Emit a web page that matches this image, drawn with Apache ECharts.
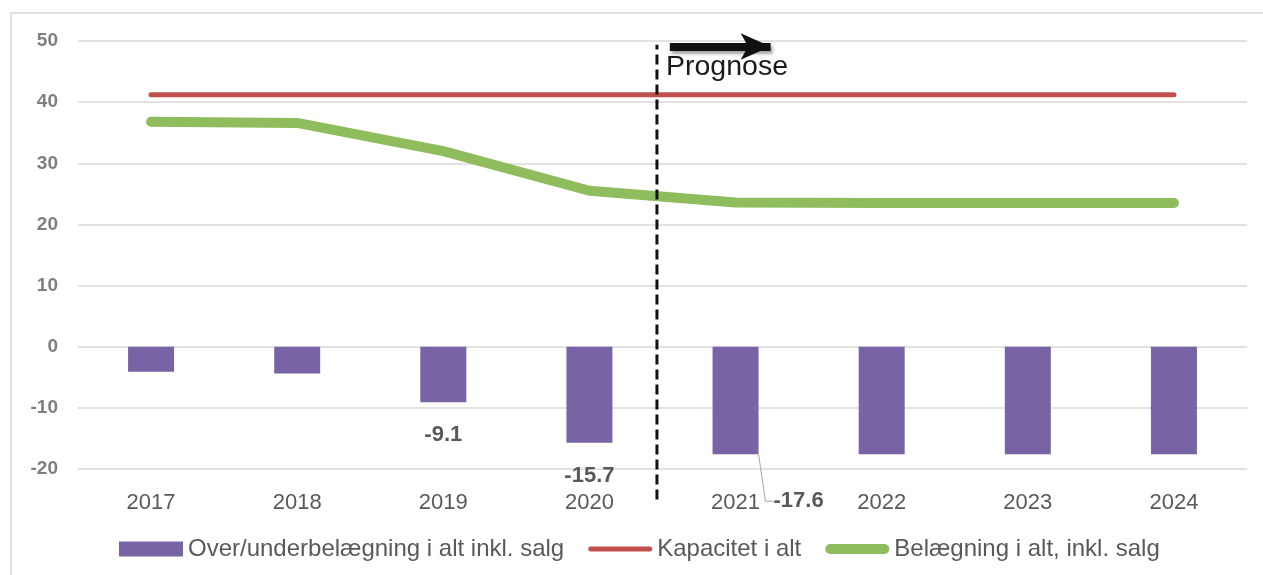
<!DOCTYPE html>
<html><head><meta charset="utf-8">
<script src="https://cdn.jsdelivr.net/npm/echarts@6/dist/echarts.min.js"></script>
<style>html,body{margin:0;padding:0;background:#fff}#c{width:1263px;height:575px}</style>
</head><body><div id="c"></div>
<script>
const categories = ['2017','2018','2019','2020','2021','2022','2023','2024'];
const overUnder = [-4.1, -4.4, -9.1, -15.7, -17.6, -17.6, -17.6, -17.6];
const showLabel = [false, false, true, true, true, false, false, false];
const capacity = [41.2, 41.2, 41.2, 41.2, 41.2, 41.2, 41.2, 41.2];
const occupancy = [36.8, 36.6, 32.0, 25.5, 23.6, 23.5, 23.5, 23.5];
const yTicks = {min: -20, max: 50, interval: 10};
// forecast divider (category-index units) and arrow
const dividerLine = [[3.462, -25], [3.462, 49.4]];
const arrowLine = [[3.55, 49.1], [4.24, 49.1]];

const font = 'Liberation Sans, Arial, sans-serif';
const names = ['Over/underbelægning i alt inkl. salg', 'Kapacitet i alt', 'Belægning i alt, inkl. salg'];
const chart = echarts.init(document.getElementById('c'));
chart.setOption({
  animation: false,
  textStyle: {fontFamily: font},
  grid: {left: 78, right: 16, top: 41, bottom: 106, containLabel: false},
  graphic: [
    {type: 'rect', shape: {x: 11, y: 13, width: 1262, height: 570}, style: {fill: 'none', stroke: '#d9d9d9', lineWidth: 1.5}, silent: true},
    {type: 'text', left: 666, top: 53, style: {text: 'Prognose', fill: '#1a1a1a', font: '28.5px ' + font}}
  ],
  legend: {
    data: [
      {name: names[0], icon: 'rect'},
      {name: names[1], icon: 'path://M2.5,0H61.5A2.5,2.5,0,0,1,61.5,5H2.5A2.5,2.5,0,0,1,2.5,0Z'},
      {name: names[2], icon: 'path://M5,0H59A5,5,0,0,1,59,10H5A5,5,0,0,1,5,0Z'}
    ],
    left: 114, top: 532, itemWidth: 64, itemHeight: 15, itemGap: 24, symbolKeepAspect: true,
    textStyle: {fontSize: 24, color: '#595959', fontFamily: font, padding: [0, 0, 0, 0]}
  },
  xAxis: [
    {type: 'category', data: categories, axisLine: {show: false}, axisTick: {show: false},
     axisLabel: {fontSize: 22, color: '#595959', margin: 23, fontFamily: font}},
    {type: 'value', min: -0.5, max: 7.5, show: false}
  ],
  yAxis: {type: 'value', min: yTicks.min, max: yTicks.max, interval: yTicks.interval,
    axisLine: {show: false}, axisTick: {show: false},
    axisLabel: {fontSize: 19, fontWeight: 'bold', color: '#7f7f7f', margin: 20, fontFamily: font},
    splitLine: {lineStyle: {color: '#d9d9d9', width: 1.5}}},
  series: [
    {name: names[0], type: 'bar', barWidth: 46,
     itemStyle: {color: '#7864a4'},
     data: overUnder.map((v, i) => ({value: v,
       label: {show: showLabel[i], position: 'bottom', distance: 22, fontSize: 22, fontWeight: 'bold', color: '#595959', formatter: p => p.value.toFixed(1)},
       labelLine: {show: i === 4, lineStyle: {color: '#a6a6a6', width: 1}, length2: 8}
     })),
     labelLayout: function (p) { if (p.dataIndex === 4) return {dx: 63, dy: 14}; return {}; }
    },
    {name: names[1], type: 'line', data: capacity, symbol: 'none',
     lineStyle: {color: '#c0504d', width: 5, cap: 'round'}, itemStyle: {color: '#c0504d'}},
    {name: names[2], type: 'line', data: occupancy, symbol: 'none',
     lineStyle: {color: '#8fbc5c', width: 10, cap: 'round', join: 'round'}, itemStyle: {color: '#8fbc5c'}},
    {name: 'divider', type: 'line', xAxisIndex: 1, data: dividerLine, symbol: 'none', clip: false, silent: true,
     lineStyle: {color: '#111', width: 3, type: [10, 5]},
     markLine: {silent: true, symbol: ['none', 'arrow'], symbolSize: [20, 30], label: {show: false},
       lineStyle: {color: '#111', width: 8, type: 'solid', shadowColor: 'rgba(0,0,0,0.35)', shadowBlur: 3, shadowOffsetX: 2, shadowOffsetY: 3},
       data: [[{coord: arrowLine[0]}, {coord: arrowLine[1]}]]}}
  ]
});
</script></body></html>
